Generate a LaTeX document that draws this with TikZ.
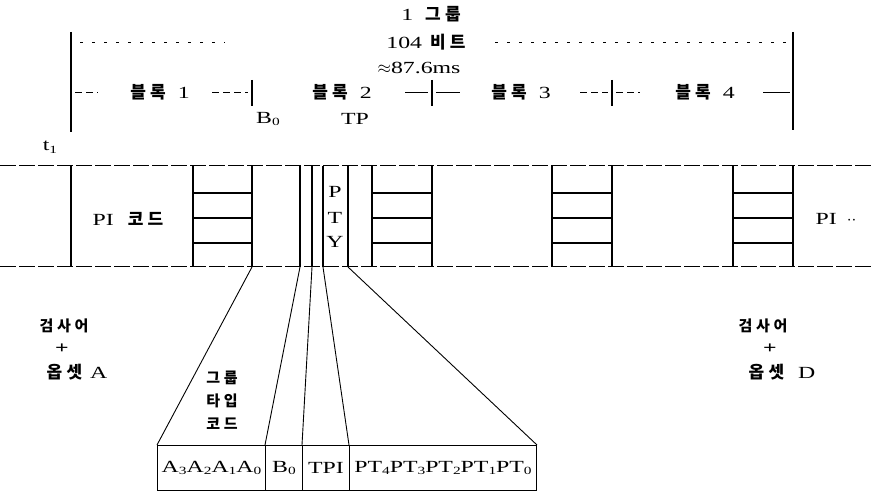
\documentclass[tikz,border=0pt]{standalone}
\usepackage{fontspec}
\setmainfont[FakeStretch=1.4]{Liberation Serif}
\newfontfamily\kr[LetterSpace=25]{Noto Sans CJK KR}
\newcommand{\lsub}[1]{\raisebox{-0.35ex}{\fontsize{11}{11}\selectfont #1}}
\begin{document}
\begin{tikzpicture}[x=1pt,y=-1pt,font=\fontsize{17}{19}\selectfont,
  frame/.style={line width=1.7pt},
  hatch/.style={line width=2.4pt},
  rail/.style={line width=1pt,dash pattern=on 16pt off 3pt},
  dotline/.style={line width=0.8pt,dash pattern=on 3pt off 9pt},
  seg/.style={line width=0.9pt,dash pattern=on 7pt off 4pt},
  tick/.style={line width=1.3pt},
  fan/.style={line width=0.9pt},
  cell/.style={draw,line width=1pt,minimum height=45pt,inner sep=0pt,anchor=north west},
  lbl/.style={inner sep=0pt},
  kor/.style={font=\kr\bfseries\fontsize{15}{23}\selectfont}]
\useasboundingbox (0,0) rectangle (871,502);

% ---- top bracket ----
\draw[frame] (71,32) -- (71,132);
\draw[frame] (793,32) -- (793,130);
\draw[dotline] (80,42) -- (225,42);
\draw[dotline] (495,42) -- (790,42);
\node[lbl] (grp) at (431,14) {1\hspace{12pt}{\kr\bfseries 그룹}};
\node[lbl] (bits) at (426,42) {104\hspace{8pt}{\kr\bfseries 비트}};
\node[lbl] (ms) at (419,68) {$\approx$87.6ms};

% block row
\draw[seg] (75,92) -- (98,92);
\node[lbl] (b1) at (160,92) {{\kr\bfseries 블록}\hspace{12pt}1};
\draw[seg] (212,92) -- (248,92);
\draw[tick] (252,80) -- (252,106);
\node[lbl] (b2) at (342,92) {{\kr\bfseries 블록}\hspace{12pt}2};
\draw[line width=0.9pt] (405,92) -- (428,92);
\draw[tick] (432,80) -- (432,106);
\draw[line width=0.9pt] (436,92) -- (460,92);
\node[lbl] (b3) at (521,92) {{\kr\bfseries 블록}\hspace{12pt}3};
\draw[seg] (580,92) -- (608,92);
\draw[tick] (612,80) -- (612,106);
\draw[seg] (616,92) -- (640,92);
\node[lbl] (b4) at (705,92) {{\kr\bfseries 블록}\hspace{12pt}4};
\draw[line width=0.9pt] (763,92) -- (790,92);

\node[lbl] (bo) at (268,119) {B\lsub{0}};
\node[lbl] (tp) at (355,119) {TP};
\node[lbl] (t1) at (50,147) {t\lsub{1}};

% ---- frame row ----
\draw[rail] (0,166) -- (871,166);
\draw[rail] (0,267) -- (871,267);
\foreach \x in {71,193,252,300,312,323,348,372,432,552,612,733,793}
  \draw[frame] (\x,166) -- (\x,267);
\foreach \a/\b in {193/252,372/432,552/612,733/793}
  \foreach \y in {193,218,243}
    \draw[hatch] (\a,\y) -- (\b,\y);
\node[lbl] (pi) at (128,219) {PI\hspace{14pt}{\kr\bfseries 코드}};
\node[lbl] (p) at (335,192) {P};
\node[lbl] (t) at (335,218) {T};
\node[lbl] (y) at (335,242) {Y};
\node[lbl] (pi2) at (836,219) {PI\hspace{10pt}$\cdot\cdot$};

% ---- bottom ----
\node[lbl,kor] (chkA) at (64,326) {검사어};
\node[lbl] (plusA) at (62,349) {\textbf{+}};
\node[lbl] (offA) at (77,372) {{\kr\bfseries 옵셋}\hspace{8pt}A};
\node[lbl,kor] (chkD) at (763,326) {검사어};
\node[lbl] (plusD) at (770,349) {\textbf{+}};
\node[lbl] (offD) at (782,372) {{\kr\bfseries 옵셋}\hspace{14pt}D};

\node[lbl,align=center,kor] (gtc) at (222,400) {그룹\\타입\\코드};

\node[cell,minimum width=108pt] (c1) at (157,445) {A\lsub{3}A\lsub{2}A\lsub{1}A\lsub{0}};
\node[cell,minimum width=37pt] (c2) at (265,445) {B\lsub{0}};
\node[cell,minimum width=47pt] (c3) at (302,445) {TPI};
\node[cell,minimum width=187pt] (c4) at (349,445) {PT\lsub{4}PT\lsub{3}PT\lsub{2}PT\lsub{1}PT\lsub{0}};

\coordinate (f1) at (252,267);
\coordinate (f2) at (300,267);
\coordinate (f3) at (312,267);
\coordinate (f4) at (323,267);
\coordinate (f5) at (348,267);
\draw[fan] (f1) -- (c1.north west);
\draw[fan] (f2) -- (c2.north west);
\draw[fan] (f3) -- (c3.north west);
\draw[fan] (f4) -- (c4.north west);
\draw[fan] (f5) -- (c4.north east);
\end{tikzpicture}
\end{document}
